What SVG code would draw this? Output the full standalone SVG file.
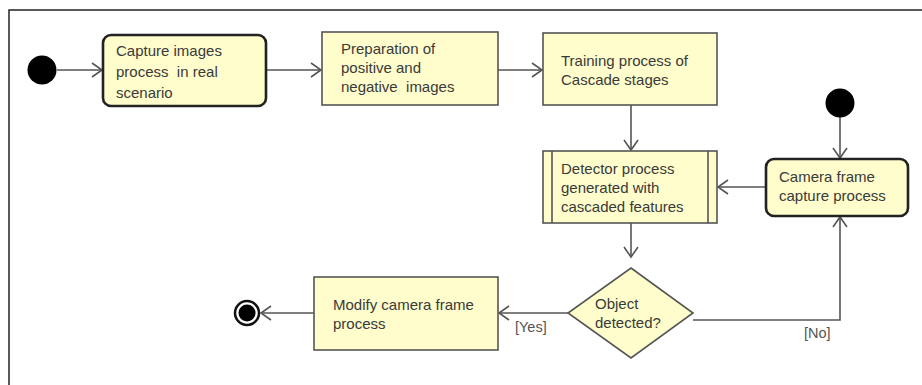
<svg xmlns="http://www.w3.org/2000/svg" width="922" height="385" viewBox="0 0 922 385">
<defs>
<style>
.bg{fill:#ffffff}
.frame{fill:none;stroke:#222;stroke-width:1.5}
.box{fill:#fefdcb;stroke:#555;stroke-width:1.6}
.rbox{fill:#fefdcb;stroke:#222;stroke-width:2.6}
.t{font-family:"Liberation Sans",Arial,sans-serif;font-size:15px;fill:#3a3a3a}
.g{font-family:"Liberation Sans",Arial,sans-serif;font-size:14.5px;fill:#555}
.c{fill:none;stroke:#555;stroke-width:1.6}
</style>
<marker id="arr" markerUnits="userSpaceOnUse" viewBox="-12 -9 14 18" markerWidth="14" markerHeight="18" refX="0" refY="0" orient="auto">
<path d="M -10 -7 L 0 0 L -10 7" fill="none" stroke="#555" stroke-width="1.6"/>
</marker>
</defs>
<rect class="bg" x="0" y="0" width="922" height="385"/>
<path class="frame" d="M 9 385 L 9 10 L 922 10"/>

<g id="connectors">
<line class="c" x1="57" y1="70" x2="102" y2="70" marker-end="url(#arr)"/>
<line class="c" x1="266" y1="70" x2="321" y2="70" marker-end="url(#arr)"/>
<line class="c" x1="498" y1="70" x2="542" y2="70" marker-end="url(#arr)"/>
<line class="c" x1="631" y1="105" x2="631" y2="150" marker-end="url(#arr)"/>
<line class="c" x1="840" y1="117" x2="840" y2="158" marker-end="url(#arr)"/>
<line class="c" x1="766" y1="187" x2="718" y2="187" marker-end="url(#arr)"/>
<line class="c" x1="631" y1="223" x2="631" y2="257" marker-end="url(#arr)"/>
<line class="c" x1="568" y1="313" x2="499" y2="313" marker-end="url(#arr)"/>
<polyline class="c" points="693,320 840,320 840,217" marker-end="url(#arr)"/>
<line class="c" x1="314" y1="313" x2="261" y2="313" marker-end="url(#arr)"/>
<text class="g" x="515" y="332">[Yes]</text>
<text class="g" x="804" y="338">[No]</text>
</g>

<g id="start1">
<circle cx="42" cy="70" r="14.5" fill="#000"/>
</g>

<g id="capture">
<rect class="rbox" x="103" y="35" width="163" height="71" rx="8"/>
<text class="t" x="116" y="56">Capture images</text>
<text class="t" x="116" y="77" xml:space="preserve">process  in real</text>
<text class="t" x="116" y="98">scenario</text>
</g>

<g id="preparation">
<rect class="box" x="322" y="32" width="176" height="73"/>
<text class="t" x="341" y="54">Preparation of</text>
<text class="t" x="341" y="73">positive and</text>
<text class="t" x="341" y="92" xml:space="preserve">negative  images</text>
</g>

<g id="training">
<rect class="box" x="543" y="33" width="174" height="72"/>
<text class="t" x="561" y="66">Training process of</text>
<text class="t" x="561" y="85">Cascade stages</text>
</g>

<g id="detector">
<rect class="box" x="543" y="151" width="174" height="72"/>
<line class="c" x1="552" y1="151" x2="552" y2="223"/>
<line class="c" x1="708" y1="151" x2="708" y2="223"/>
<text class="t" x="561" y="174">Detector process</text>
<text class="t" x="561" y="193">generated with</text>
<text class="t" x="561" y="212">cascaded features</text>
</g>

<g id="start2">
<circle cx="840" cy="103" r="14.5" fill="#000"/>
</g>

<g id="camera">
<rect class="rbox" x="766" y="159" width="142" height="57" rx="8"/>
<text class="t" x="779" y="182">Camera frame</text>
<text class="t" x="779" y="201">capture process</text>
</g>

<g id="decision">
<polygon class="box" points="631,268 693,313 631,358 568,313"/>
<text class="t" x="595" y="309">Object</text>
<text class="t" x="595" y="328">detected?</text>
</g>

<g id="modify">
<rect class="box" x="314" y="277" width="184" height="73"/>
<text class="t" x="333" y="310">Modify camera frame</text>
<text class="t" x="333" y="329">process</text>
</g>

<g id="end">
<circle cx="247" cy="313" r="12" fill="#fff" stroke="#111" stroke-width="2.5"/>
<circle cx="247" cy="313" r="8.5" fill="#000"/>
</g>
</svg>
